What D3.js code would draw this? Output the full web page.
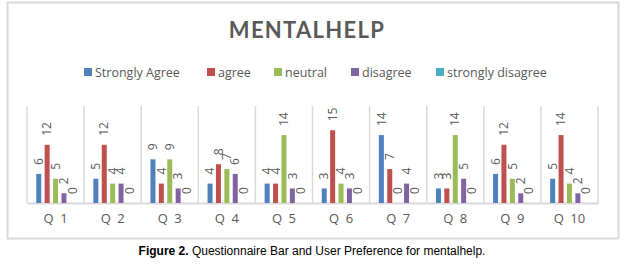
<!DOCTYPE html>
<html>
<head>
<meta charset="utf-8">
<script src="https://cdn.jsdelivr.net/npm/d3@7"></script>
<style>
  body { margin: 0; background: #fff; }
</style>
</head>
<body>
<svg id="vis"></svg>
<script>
const WIDTH = 642;
const HEIGHT = 266;

// datos
const questions = ["Q 1", "Q 2", "Q 3", "Q 4", "Q 5", "Q 6", "Q 7", "Q 8", "Q 9", "Q 10"];
const seriesNames = ["Strongly Agree", "agree", "neutral", "disagree", "strongly disagree"];
const stronglyAgree = [6, 5, 9, 4, 4, 3, 14, 3, 6, 5];
const agree = [12, 12, 4, 8, 4, 15, 7, 3, 12, 14];
const neutral = [5, 4, 9, 7, 14, 4, 0, 14, 5, 4];
const disagree = [2, 4, 3, 6, 3, 3, 4, 5, 2, 2];
const stronglyDisagree = [0, 0, 0, 0, 0, 0, 0, 0, 0, 0];
const colors = ["#4F81BD", "#C0504D", "#9BBB59", "#8064A2", "#4BACC6"];

const allSeries = [stronglyAgree, agree, neutral, disagree, stronglyDisagree];
const FONT = "Lato, 'Open Sans', sans-serif";

const svg = d3.select("#vis")
    .attr("width", WIDTH)
    .attr("height", HEIGHT)
    .attr("font-family", FONT);

// caja del grafico
svg.append("rect")
    .attr("x", 7.5).attr("y", 2.5)
    .attr("width", 611).attr("height", 236)
    .attr("fill", "#fff")
    .attr("stroke", "#d9d9d9")
    .attr("stroke-width", 2);

// titulo
svg.append("text")
    .attr("x", 307).attr("y", 38)
    .attr("text-anchor", "middle")
    .attr("font-size", 22)
    .attr("font-weight", "bold")
    .attr("letter-spacing", 1.3)
    .attr("fill", "#595959")
    .text("MENTALHELP");

// leyenda
const legendX = [84, 207, 274, 351, 436];
const legend = svg.append("g");
seriesNames.forEach((name, i) => {
    legend.append("rect")
        .attr("x", legendX[i]).attr("y", 68)
        .attr("width", 8).attr("height", 8)
        .attr("fill", colors[i]);
    legend.append("text")
        .attr("x", legendX[i] + 11).attr("y", 77)
        .attr("font-size", 12.5)
        .attr("font-family", "'Open Sans', sans-serif")
        .attr("fill", "#595959")
        .text(name);
});

// escalas
const plotLeft = 27, plotRight = 598, plotTop = 106, plotBottom = 203;
const x = d3.scaleBand().domain(questions).range([plotLeft, plotRight]).padding(0);
const inner = d3.scaleBand().domain(d3.range(5)).range([x.bandwidth() / 2 - 21, x.bandwidth() / 2 + 21]);
const y = d3.scaleLinear().domain([0, 20]).range([plotBottom, plotTop]);

// lineas separadoras
const grid = svg.append("g");
const bounds = questions.map(q => x(q)).concat([plotRight]);
grid.selectAll("line")
    .data(bounds)
    .join("line")
    .attr("x1", d => d).attr("x2", d => d)
    .attr("y1", plotTop).attr("y2", plotBottom)
    .attr("stroke", "#d9d9d9")
    .attr("stroke-width", 1.5);

// eje X
const ejeX = svg.append("g")
    .attr("transform", `translate(0, ${plotBottom})`)
    .call(d3.axisBottom(x).tickSize(0).tickPadding(11).tickFormat(d => d.replace(" ", "\u2002")));
ejeX.select(".domain").attr("stroke", "#d9d9d9").attr("stroke-width", 2);
ejeX.selectAll("text")
    .attr("font-size", 13)
    .attr("font-family", "'Open Sans', sans-serif")
    .attr("fill", "#595959");

// barras
const barW = 5;
const flat = [];
questions.forEach((q, qi) => {
    allSeries.forEach((s, si) => flat.push({ q, si, v: s[qi] }));
});
const cx = d => x(d.q) + inner(d.si) + inner.bandwidth() / 2;

svg.append("g")
    .selectAll("rect")
    .data(flat)
    .join("rect")
    .attr("x", d => cx(d) - barW / 2)
    .attr("y", d => y(d.v))
    .attr("width", barW)
    .attr("height", d => plotBottom - y(d.v))
    .attr("fill", d => colors[d.si]);

// etiquetas rotadas
svg.append("g")
    .selectAll("text")
    .data(flat)
    .join("text")
    .attr("transform", d => `translate(${cx(d)}, ${y(d.v) - 9}) rotate(-90)`)
    .attr("dy", "0.35em")
    .attr("text-anchor", "start")
    .attr("font-size", 12)
    .attr("font-family", "'Open Sans', sans-serif")
    .attr("fill", "#595959")
    .text(d => d.v);

// pie de figura
const cap = svg.append("text")
    .attr("x", 312).attr("y", 255)
    .attr("text-anchor", "middle")
    .attr("font-size", 12)
    .attr("font-family", "'Liberation Sans', Arial, sans-serif")
    .attr("fill", "#000");
cap.append("tspan").attr("font-weight", "bold").text("Figure 2.");
cap.append("tspan").text(" Questionnaire Bar and User Preference for mentalhelp.");
</script>
</body>
</html>
